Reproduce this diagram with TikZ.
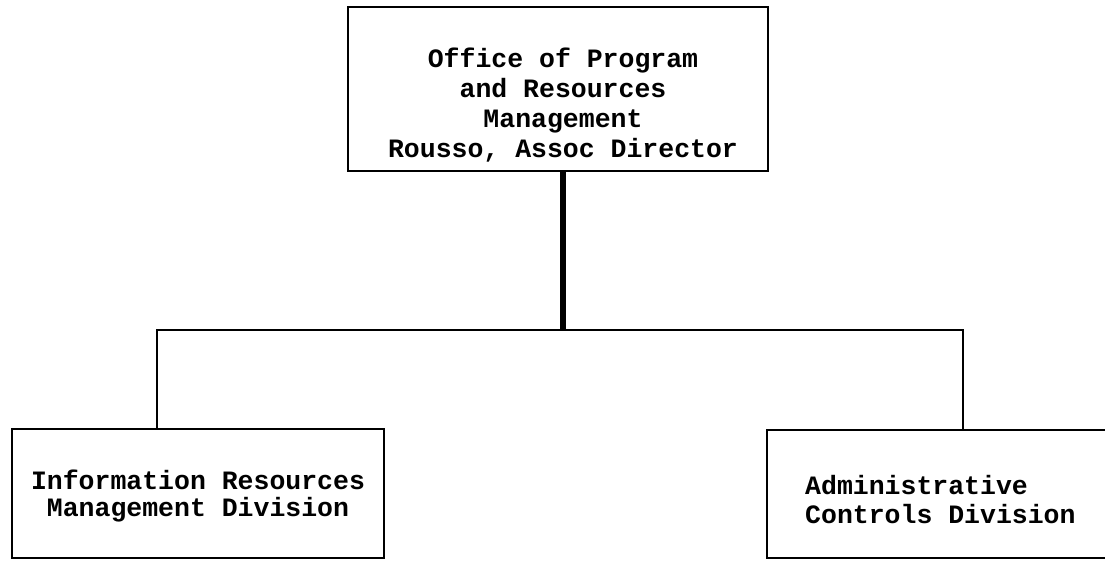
\documentclass[tikz,border=0pt]{standalone}
\usepackage{fontspec}
\setmonofont{Liberation Mono}
\usepackage{tikz}

\tikzset{
    unitbox/.style={draw, line width=2.4pt, inner sep=0pt},
    unittext/.style={font=\ttfamily\bfseries\fontsize{26.5}{30}\selectfont, inner sep=0pt},
    trunk/.style={line width=5.5pt},
    branch/.style={line width=2.8pt}
}

\begin{document}
\begin{tikzpicture}[x=1pt,y=-1pt]
    \clip (0,0) rectangle (1105,561);
    % boxes
    \node[unitbox, minimum width=420pt, minimum height=164pt] (office) at (558,89) {};
    \node[unittext, align=center] (officetxt) at (563,105) {Office of Program\\and Resources\\Management\\Rousso, Assoc Director};
    \node[unitbox, minimum width=372pt, minimum height=129pt] (irmd) at (198,493.5) {};
    \node[unittext, align=center, font=\ttfamily\bfseries\fontsize{26.5}{27.5}\selectfont] (irmdtxt) at (198,496) {Information Resources\\Management Division};
    \node[unitbox, minimum width=358pt, minimum height=128pt] (acd) at (946,494) {};
    \node[unittext, align=left, anchor=west, font=\ttfamily\bfseries\fontsize{26.5}{29}\selectfont] (acdtxt) at (805,500) {Administrative\\Controls Division};
    % connectors
    \coordinate (junction) at (563,330);
    \coordinate (lefttee) at (157,330);
    \coordinate (righttee) at (963,330);
    \draw[trunk] (office.south -| junction) -- (junction);
    \draw[branch] (irmd.north -| lefttee) -- (lefttee) -- (righttee) -- (acd.north -| righttee);
\end{tikzpicture}
\end{document}
